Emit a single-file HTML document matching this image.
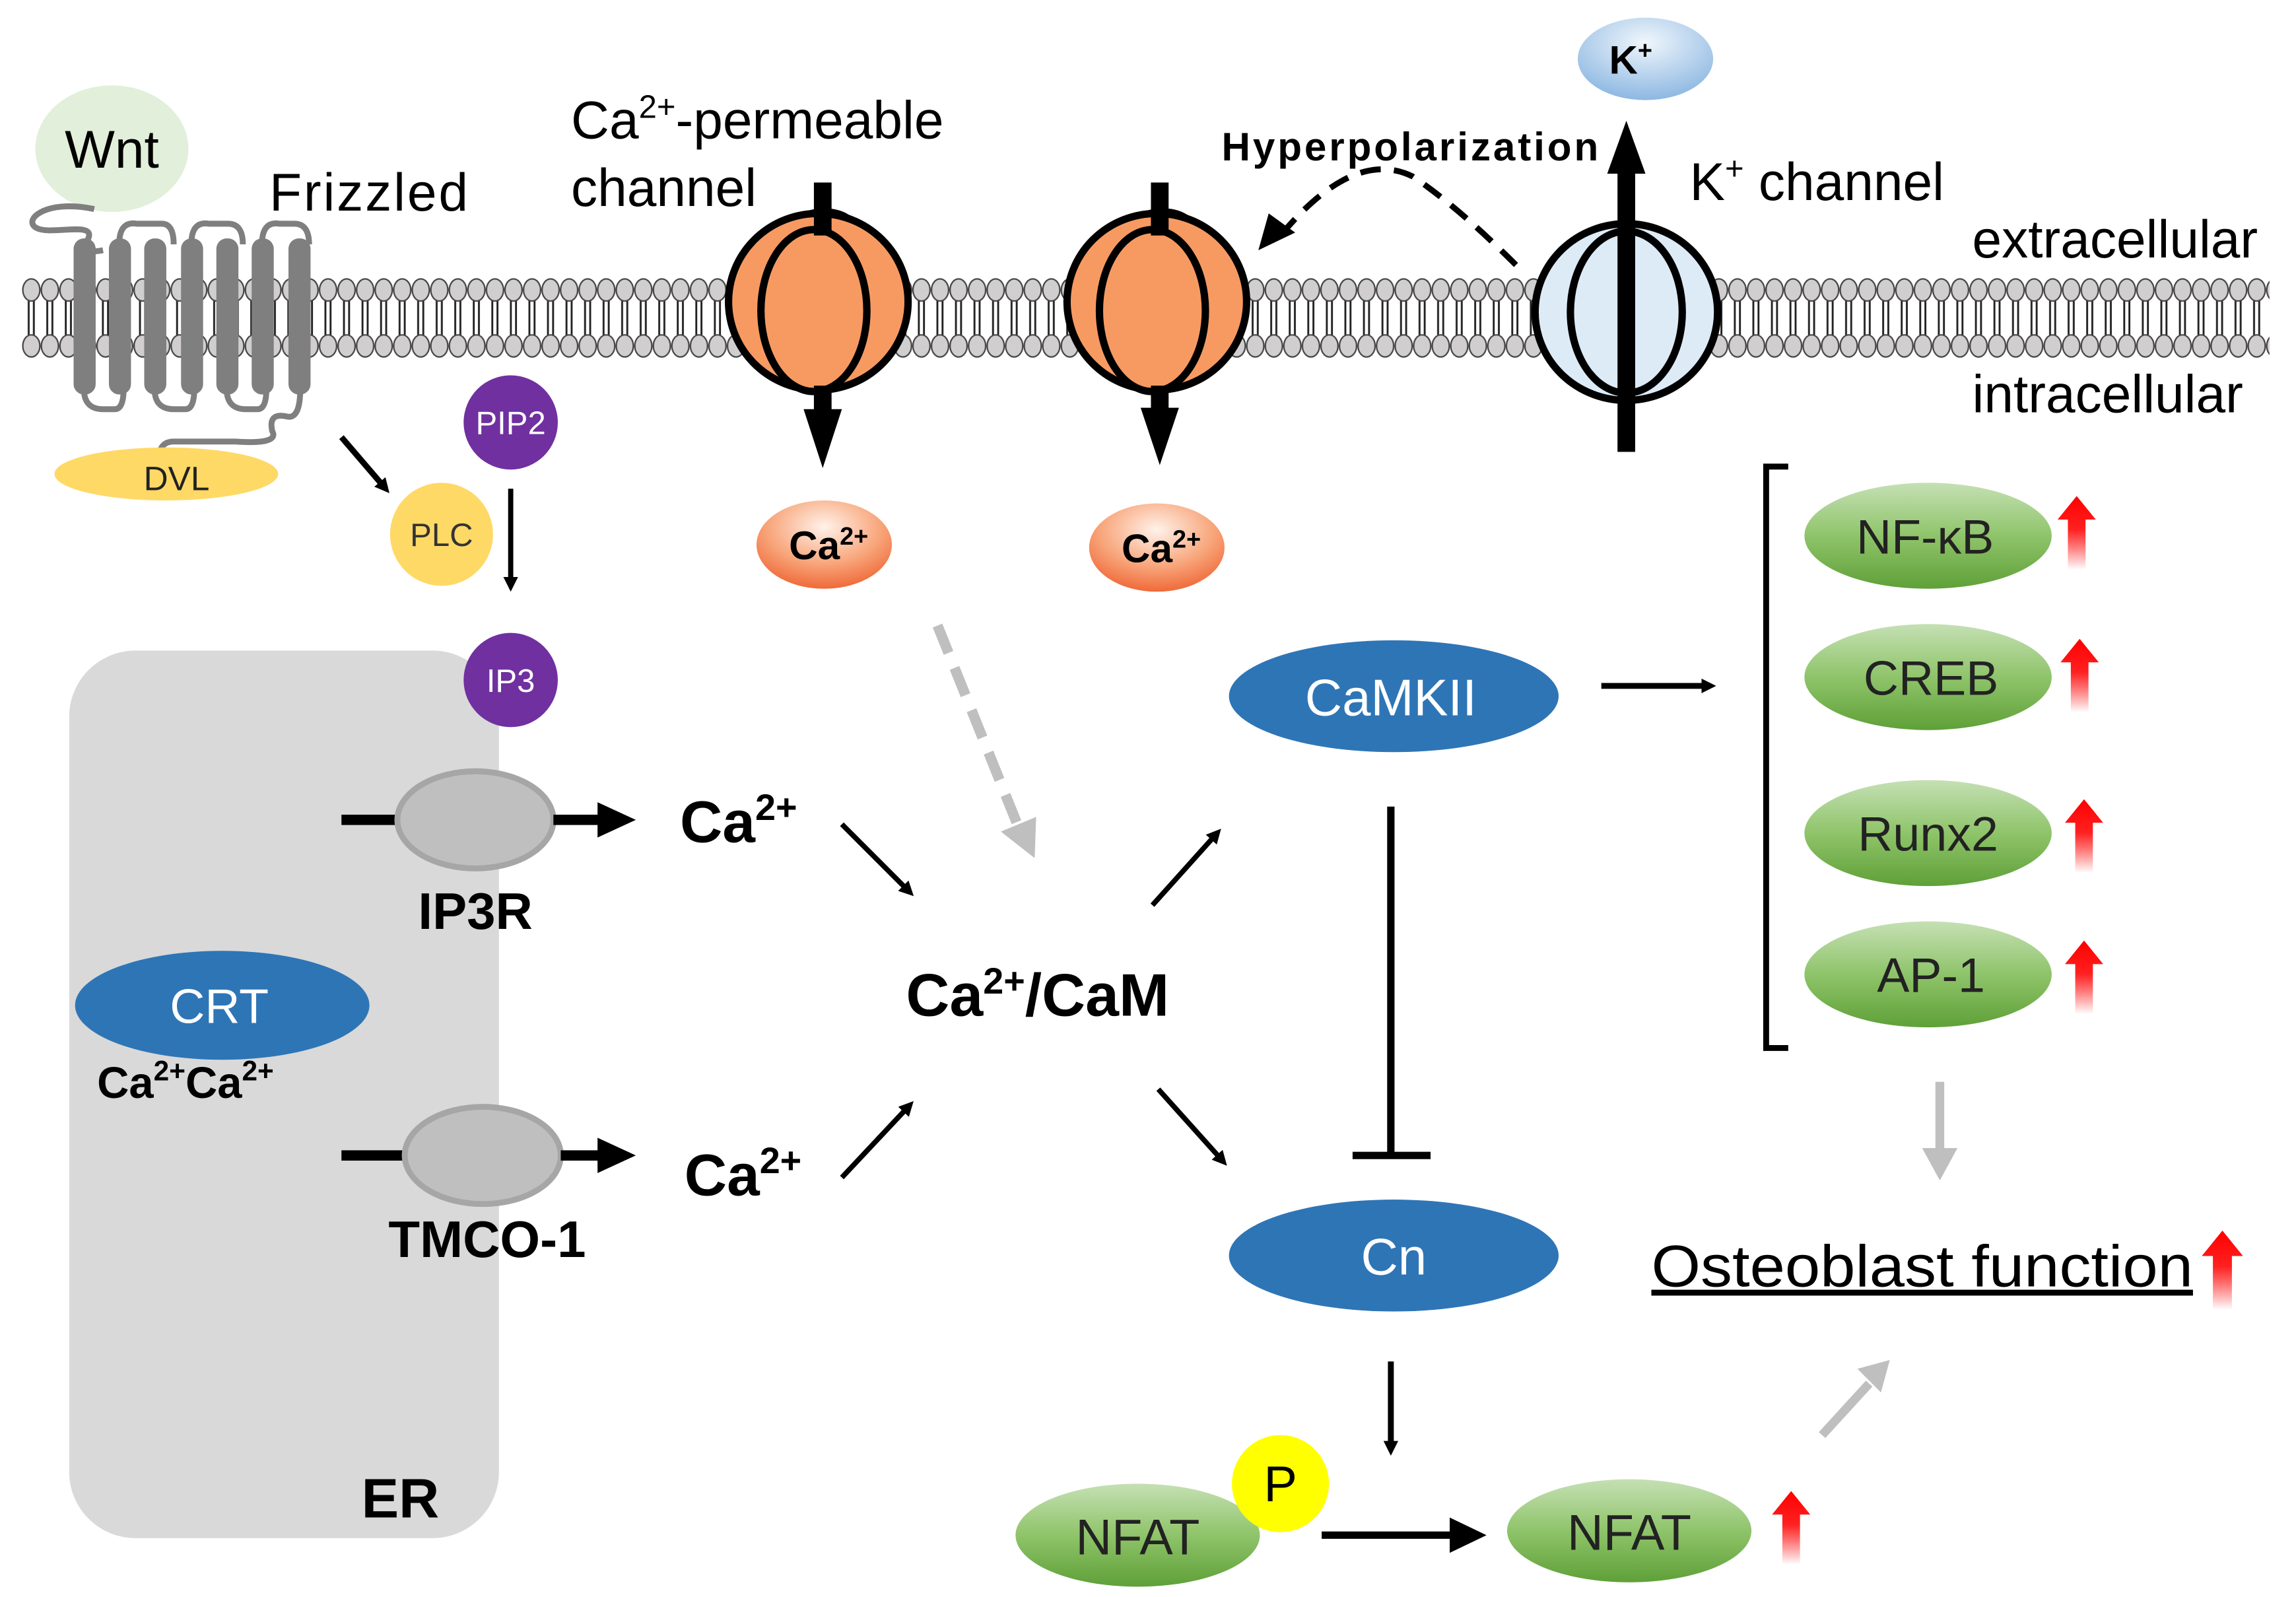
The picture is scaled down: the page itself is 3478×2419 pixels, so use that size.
<!DOCTYPE html>
<html><head><meta charset="utf-8"><style>
html,body{margin:0;padding:0;background:#fff}
svg{display:block}
text{font-family:"Liberation Sans",Arial,sans-serif}
</style></head><body>
<svg width="3478" height="2419" viewBox="0 0 1560 1085" xmlns="http://www.w3.org/2000/svg">
<defs>
<pattern id="lip" x="15" y="185" width="12.6" height="62" patternUnits="userSpaceOnUse">
<line x1="4.5" y1="18" x2="4.5" y2="44" stroke="#222" stroke-width="1.3"/>
<line x1="8" y1="18" x2="8" y2="44" stroke="#222" stroke-width="1.3"/>
<ellipse cx="6.3" cy="12" rx="5.8" ry="7.5" fill="#D0CECE" stroke="#444" stroke-width="1"/>
<ellipse cx="6.3" cy="50" rx="5.8" ry="7.5" fill="#D0CECE" stroke="#444" stroke-width="1"/>
</pattern>
<radialGradient id="gcal" cx="0.5" cy="0.3" r="0.7"><stop offset="0" stop-color="#FFF2EA"/><stop offset="0.6" stop-color="#F8A57A"/><stop offset="1" stop-color="#EF6A3A"/></radialGradient>
<radialGradient id="gk" cx="0.5" cy="0.3" r="0.7"><stop offset="0" stop-color="#F0F6FC"/><stop offset="1" stop-color="#8DB8E2"/></radialGradient>
<linearGradient id="ggr" x1="0" y1="0" x2="0" y2="1"><stop offset="0" stop-color="#C5E0B4"/><stop offset="0.5" stop-color="#8FC46A"/><stop offset="1" stop-color="#5FA038"/></linearGradient>
<linearGradient id="gred" x1="0" y1="0" x2="0" y2="1"><stop offset="0" stop-color="#FF0000"/><stop offset="0.45" stop-color="#FF2020"/><stop offset="1" stop-color="#FF0000" stop-opacity="0"/></linearGradient>
<marker id="ah" markerWidth="10" markerHeight="10" refX="6" refY="5" orient="auto" markerUnits="userSpaceOnUse" viewBox="0 0 10 10"><path d="M0,0 L10,5 L0,10 z" fill="#000"/></marker>
<symbol id="red" viewBox="0 0 26 50"><path d="M13,0 L26,16 L19,16 L19,50 L7,50 L7,16 L0,16 z" fill="url(#gred)"/></symbol>
</defs>

<rect x="15" y="185" width="1527" height="62" fill="url(#lip)"/>

<ellipse cx="76" cy="101" rx="52" ry="43" fill="#E2EFDA"/>
<text x="76" y="114" font-size="36" text-anchor="middle">Wnt</text>
<path d="M64,142 C30,135 15,150 25,155 C35,160 65,150 60,162 C55,170 60,172 70,170" fill="none" stroke="#7f7f7f" stroke-width="4"/>
<text x="183" y="143" font-size="36" textLength="135">Frizzled</text>

<g fill="none" stroke="#7f7f7f" stroke-width="4">
<path d="M81,166 Q81,150 93,152 L110,152 Q118,152 118,166"/>
<path d="M130,166 Q130,150 142,152 L155,152 Q165,152 165,166"/>
<path d="M178,166 Q178,150 190,152 L200,152 Q210,152 210,166"/>
<path d="M57,264 Q57,278 70,278 L78,278 Q84,278 84,264"/>
<path d="M105,264 Q105,278 118,278 L126,278 Q132,278 132,264"/>
<path d="M154,264 Q154,278 167,278 L175,278 Q181,278 181,264"/>
<path d="M204,264 Q204,285 195,283 Q182,280 185,293 Q190,302 160,300 L118,300 Q108,300 108,312"/>
</g>
<g fill="#7f7f7f">
<rect x="50" y="162" width="15" height="106" rx="7"/>
<rect x="74" y="162" width="15" height="106" rx="7"/>
<rect x="98" y="162" width="15" height="106" rx="7"/>
<rect x="123" y="162" width="15" height="106" rx="7"/>
<rect x="147" y="162" width="15" height="106" rx="7"/>
<rect x="171" y="162" width="15" height="106" rx="7"/>
<rect x="196" y="162" width="15" height="106" rx="7"/>
</g>
<ellipse cx="113" cy="322" rx="76" ry="18" fill="#FFD966"/>
<text x="120" y="333" font-size="23" text-anchor="middle" fill="#222">DVL</text>

<line x1="232" y1="297" x2="262" y2="332" stroke="#000" stroke-width="4" marker-end="url(#ah)"/>
<circle cx="300" cy="363" r="35" fill="#FFD966"/>
<text x="300" y="371" font-size="22" text-anchor="middle" fill="#333">PLC</text>
<circle cx="347" cy="287" r="32" fill="#7030A0"/>
<text x="347" y="295" font-size="22" text-anchor="middle" fill="#fff">PIP2</text>
<line x1="347" y1="332" x2="347" y2="398" stroke="#000" stroke-width="3.5" marker-end="url(#ah)"/>

<rect x="47" y="442" width="292" height="603" rx="45" fill="#D9D9D9"/>
<text x="272" y="1031" font-size="38" font-weight="bold" text-anchor="middle">ER</text>
<circle cx="347" cy="462" r="32" fill="#7030A0"/>
<text x="347" y="470" font-size="22" text-anchor="middle" fill="#fff">IP3</text>

<line x1="232" y1="557" x2="272" y2="557" stroke="#000" stroke-width="7"/>
<ellipse cx="323" cy="557" rx="53" ry="33" fill="#BFBFBF" stroke="#A6A6A6" stroke-width="4"/>
<line x1="376" y1="557" x2="410" y2="557" stroke="#000" stroke-width="7"/>
<path d="M406,545 L432,557 L406,569 z"/>
<text x="323" y="631" font-size="35" font-weight="bold" text-anchor="middle">IP3R</text>

<ellipse cx="151" cy="683" rx="100" ry="37" fill="#2E75B6"/>
<text x="149" y="695" font-size="33" text-anchor="middle" fill="#fff">CRT</text>
<text x="66" y="746" font-size="30" font-weight="bold">Ca<tspan font-size="19" dy="-12">2+</tspan><tspan dy="12">Ca</tspan><tspan font-size="19" dy="-12">2+</tspan></text>

<line x1="232" y1="785" x2="276" y2="785" stroke="#000" stroke-width="7"/>
<ellipse cx="328" cy="785" rx="53" ry="33" fill="#BFBFBF" stroke="#A6A6A6" stroke-width="4"/>
<line x1="381" y1="785" x2="410" y2="785" stroke="#000" stroke-width="7"/>
<path d="M406,773 L432,785 L406,797 z"/>
<text x="331" y="854" font-size="35" font-weight="bold" text-anchor="middle">TMCO-1</text>

<text x="462" y="572" font-size="40" font-weight="bold">Ca<tspan font-size="25" dy="-15">2+</tspan></text>
<text x="465" y="812" font-size="40" font-weight="bold">Ca<tspan font-size="25" dy="-15">2+</tspan></text>
<line x1="572" y1="560" x2="618" y2="606" stroke="#000" stroke-width="3.5" marker-end="url(#ah)"/>
<line x1="572" y1="800" x2="618" y2="751" stroke="#000" stroke-width="3.5" marker-end="url(#ah)"/>
<text x="705" y="690" font-size="41" font-weight="bold" text-anchor="middle">Ca<tspan font-size="25" dy="-15">2+</tspan><tspan dy="15">/CaM</tspan></text>
<line x1="637" y1="425" x2="692" y2="562" stroke="#BFBFBF" stroke-width="7" stroke-dasharray="20,11"/>
<path d="M680,565 L703,583 L704,555 z" fill="#BFBFBF"/>
<line x1="783" y1="615" x2="827" y2="566" stroke="#000" stroke-width="3.5" marker-end="url(#ah)"/>
<line x1="787" y1="740" x2="831" y2="789" stroke="#000" stroke-width="3.5" marker-end="url(#ah)"/>

<g stroke="#000" stroke-width="5" fill="#F79A62">
<ellipse cx="560" cy="158" rx="22" ry="14"/>
<ellipse cx="556" cy="205" rx="61" ry="60"/>
<ellipse cx="553" cy="211" rx="36" ry="55"/>
<ellipse cx="790" cy="158" rx="22" ry="14"/>
<ellipse cx="786" cy="205" rx="61" ry="60"/>
<ellipse cx="783" cy="211" rx="36" ry="55"/>
</g>
<rect x="553" y="124" width="12" height="36"/>
<rect x="553" y="262" width="12" height="20"/>
<path d="M546,278 L572,278 L559,318 z"/>
<rect x="782" y="124" width="12" height="36"/>
<rect x="782" y="262" width="12" height="18"/>
<path d="M775,277 L801,277 L788,316 z"/>
<text x="388" y="94" font-size="36">Ca<tspan font-size="22" dy="-14">2+</tspan><tspan dy="14">-permeable</tspan></text>
<text x="388" y="140" font-size="36">channel</text>

<ellipse cx="560" cy="370" rx="46" ry="30" fill="url(#gcal)"/>
<text x="563" y="380" font-size="27" font-weight="bold" text-anchor="middle">Ca<tspan font-size="17" dy="-10">2+</tspan></text>
<ellipse cx="786" cy="372" rx="46" ry="30" fill="url(#gcal)"/>
<text x="789" y="382" font-size="27" font-weight="bold" text-anchor="middle">Ca<tspan font-size="17" dy="-10">2+</tspan></text>

<g stroke="#000" stroke-width="5" fill="#DDEBF7">
<ellipse cx="1105" cy="212" rx="62" ry="60"/>
<ellipse cx="1105" cy="212" rx="38" ry="55"/>
</g>
<rect x="1099" y="115" width="12" height="192"/>
<path d="M1092,118 L1118,118 L1105,82 z"/>
<ellipse cx="1118" cy="40" rx="46" ry="28" fill="url(#gk)"/>
<text x="1108" y="50" font-size="27" font-weight="bold" text-anchor="middle">K<tspan font-size="17" dy="-10">+</tspan></text>
<text x="830" y="109" font-size="27" font-weight="bold" textLength="256">Hyperpolarization</text>
<path d="M1030,180 Q990,140 960,120 Q920,100 870,160" fill="none" stroke="#000" stroke-width="4" stroke-dasharray="14,9"/>
<path d="M855,170 L862,145 L880,158 z"/>
<text x="1148" y="136" font-size="36">K<tspan font-size="22" dy="-14">+</tspan><tspan dy="14"> channel</tspan></text>
<text x="1340" y="175" font-size="36">extracellular</text>
<text x="1340" y="280" font-size="36">intracellular</text>

<ellipse cx="947" cy="473" rx="112" ry="38" fill="#2E75B6"/>
<text x="945" y="486" font-size="35" text-anchor="middle" fill="#fff">CaMKII</text>
<ellipse cx="947" cy="853" rx="112" ry="38" fill="#2E75B6"/>
<text x="947" y="866" font-size="35" text-anchor="middle" fill="#fff">Cn</text>
<line x1="945" y1="548" x2="945" y2="785" stroke="#000" stroke-width="5"/>
<line x1="919" y1="785" x2="972" y2="785" stroke="#000" stroke-width="5"/>
<line x1="1088" y1="466" x2="1162" y2="466" stroke="#000" stroke-width="4" marker-end="url(#ah)"/>
<line x1="945" y1="925" x2="945" y2="985" stroke="#000" stroke-width="4" marker-end="url(#ah)"/>

<ellipse cx="773" cy="1043" rx="83" ry="35" fill="url(#ggr)"/>
<text x="773" y="1056" font-size="34" text-anchor="middle" fill="#222">NFAT</text>
<circle cx="870" cy="1008" r="33" fill="#FFFF00"/>
<text x="870" y="1020" font-size="34" text-anchor="middle">P</text>
<line x1="898" y1="1043" x2="988" y2="1043" stroke="#000" stroke-width="5"/>
<path d="M985,1031 L1010,1043 L985,1055 z"/>
<ellipse cx="1107" cy="1040" rx="83" ry="35" fill="url(#ggr)"/>
<text x="1107" y="1053" font-size="34" text-anchor="middle" fill="#222">NFAT</text>
<use href="#red" x="1204" y="1012" width="26" height="52"/>
<line x1="1238" y1="975" x2="1270" y2="940" stroke="#BFBFBF" stroke-width="6"/>
<path d="M1262,930 L1284,924 L1278,946 z" fill="#BFBFBF"/>

<path d="M1215,317 L1200,317 L1200,712 L1215,712" fill="none" stroke="#000" stroke-width="4"/>
<g font-size="33" text-anchor="middle" fill="#222">
<ellipse cx="1310" cy="364" rx="84" ry="36" fill="url(#ggr)"/>
<text x="1308" y="376">NF-κB</text>
<ellipse cx="1310" cy="460" rx="84" ry="36" fill="url(#ggr)"/>
<text x="1312" y="472">CREB</text>
<ellipse cx="1310" cy="566" rx="84" ry="36" fill="url(#ggr)"/>
<text x="1310" y="578">Runx2</text>
<ellipse cx="1310" cy="662" rx="84" ry="36" fill="url(#ggr)"/>
<text x="1312" y="674">AP-1</text>
</g>
<use href="#red" x="1398" y="336" width="26" height="52"/>
<use href="#red" x="1400" y="433" width="26" height="52"/>
<use href="#red" x="1403" y="542" width="26" height="52"/>
<use href="#red" x="1403" y="638" width="26" height="52"/>
<line x1="1318" y1="735" x2="1318" y2="785" stroke="#BFBFBF" stroke-width="6"/>
<path d="M1306,780 L1330,780 L1318,802 z" fill="#BFBFBF"/>
<text x="1122" y="874" font-size="40" text-decoration="underline" textLength="368" lengthAdjust="spacingAndGlyphs">Osteoblast function</text>
<use href="#red" x="1496" y="836" width="28" height="54"/>
</svg>
</body></html>
